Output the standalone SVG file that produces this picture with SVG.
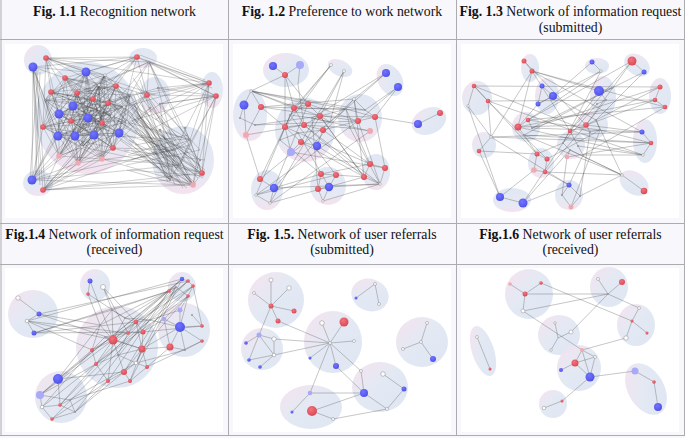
<svg xmlns="http://www.w3.org/2000/svg" width="685" height="438" viewBox="0 0 685 438">
<defs>
<linearGradient id="cg" x1="0" y1="0" x2="1" y2="1"><stop offset="0" stop-color="#f6e1ee"/><stop offset="0.45" stop-color="#e2e8f3"/><stop offset="1" stop-color="#dde5f1"/></linearGradient>
<linearGradient id="cgb" x1="0" y1="0" x2="0" y2="1"><stop offset="0" stop-color="#dfe6f2"/><stop offset="0.7" stop-color="#e4e8f3"/><stop offset="1" stop-color="#f4e0ee"/></linearGradient>
<radialGradient id="rg" cx="0.4" cy="0.35" r="0.7"><stop offset="0" stop-color="#f07480"/><stop offset="1" stop-color="#d9464f"/></radialGradient>
<radialGradient id="bg" cx="0.4" cy="0.35" r="0.7"><stop offset="0" stop-color="#7275ff"/><stop offset="1" stop-color="#4c4fe6"/></radialGradient>
</defs>
<style>
text{font-family:'Liberation Serif',serif;font-size:13.8px;fill:#111;text-anchor:middle}
.bd{font-weight:bold}
.grid{stroke:#ababb0;stroke-width:1;fill:none}
.img{fill:#fff}
.c ellipse{fill:url(#cg);opacity:0.95}
.c ellipse.cb{fill:url(#cgb)}
.e{fill:none;stroke:#4a4a4a;stroke-width:0.45;stroke-opacity:0.7}
.ed{fill:none;stroke:#3c3c3c;stroke-width:0.35;stroke-opacity:0.7}
.r{fill:url(#rg)}
.b{fill:url(#bg)}
.rf{fill:#f1a9b1}
.bf{fill:#a8a9f7}
.w{fill:#fff;stroke:#8a8a8a;stroke-width:0.5}
.s{fill:#9a9aa2}
</style>
<rect x="0" y="0" width="685" height="438" fill="#f7f7fc"/>
<g id="table">
<rect class="img" x="5" y="44" width="218" height="174"/>
<rect class="img" x="233" y="44" width="218" height="174"/>
<rect class="img" x="461" y="44" width="218" height="174"/>
<rect class="img" x="5" y="268" width="218" height="164"/>
<rect class="img" x="233" y="268" width="218" height="164"/>
<rect class="img" x="461" y="268" width="218" height="164"/>
<path class="grid" d="M1 0V436M228.5 0V436M456.5 0V436M684.5 0V436M0 39.5H685M0 223.5H685M0 264.5H685M0 435.5H685"/>
</g>
<g id="titles" font-family="Liberation Serif, Times New Roman, serif">
<text x="114.5" y="16"><tspan class="bd">Fig. 1.1</tspan> Recognition network</text>
<text x="342" y="16"><tspan class="bd">Fig. 1.2</tspan> Preference to work network</text>
<text x="570.5" y="16"><tspan class="bd">Fig. 1.3</tspan> Network of information request</text>
<text x="570.5" y="31.5">(submitted)</text>
<text x="114.5" y="238.5"><tspan class="bd">Fig.1.4</tspan> Network of information request</text>
<text x="114.5" y="254">(received)</text>
<text x="342" y="238.5"><tspan class="bd">Fig. 1.5.</tspan> Network of user referrals</text>
<text x="342" y="254">(submitted)</text>
<text x="570.5" y="238.5"><tspan class="bd">Fig.1.6</tspan> Network of user referrals</text>
<text x="570.5" y="254">(received)</text>
</g>

<g id="fig-1-1">
<g class="c">
<ellipse cx="38" cy="60" rx="14" ry="15"/>
<ellipse class="cb" cx="87" cy="118" rx="52" ry="56"/>
<ellipse class="cb" cx="143" cy="58" rx="14" ry="10"/>
<ellipse class="cb" cx="155" cy="95" rx="15" ry="18"/>
<ellipse class="cb" cx="212" cy="90" rx="11" ry="18"/>
<ellipse class="cb" cx="183" cy="160" rx="31" ry="34"/>
<ellipse class="cb" cx="38" cy="183" rx="15" ry="13"/>
</g>
<g id="fig-1-1-connectors">
<path class="ed" d="M86 72L116 86M86 72L93 99M86 72L59 114M65 78L99 85M65 78L108 103M65 78L88 118M105 75L51 92M105 75L73 106M105 75L112 116M116 86L77 93M116 86L124 107M116 86L71 121M99 85L93 99M99 85L99 109M99 85L102 123M51 92L108 103M51 92L59 114M51 92L127 122M77 93L73 106M77 93L88 118M77 93L43 127M93 99L124 107M93 99L112 116M93 99L58 136M108 103L99 109M108 103L71 121M108 103L75 136M73 106L59 114M73 106L102 123M73 106L94 135M124 107L88 118M124 107L127 122M124 107L119 133M99 109L112 116M99 109L43 127M99 109L82 147M59 114L71 121M59 114L58 136M59 114L113 148M88 118L102 123M88 118L75 136M88 118L59 156M112 116L127 122M112 116L94 135M112 116L78 163M71 121L43 127M71 121L119 133M71 121L102 159M102 123L58 136M102 123L82 147M102 123L45 100M127 122L75 136M127 122L113 148M127 122L130 95M43 127L94 135M43 127L59 156M43 127L86 72M58 136L119 133M58 136L78 163M58 136L65 78M75 136L82 147M75 136L102 159M75 136L105 75M94 135L113 148M94 135L45 100M94 135L116 86M119 133L59 156M119 133L130 95M119 133L99 85M82 147L78 163M82 147L86 72M82 147L51 92M113 148L102 159M113 148L65 78M113 148L77 93M59 156L45 100M59 156L105 75M59 156L93 99M78 163L130 95M78 163L116 86M78 163L108 103M102 159L86 72M102 159L99 85M102 159L73 106M45 100L65 78M45 100L51 92M45 100L124 107M130 95L105 75M130 95L77 93M130 95L99 109"/>
<path class="ed" d="M86 72L51 92M86 72L73 106M65 78L77 93M65 78L124 107M105 75L93 99M105 75L99 109M116 86L108 103M116 86L59 114M99 85L73 106M99 85L88 118M51 92L124 107M51 92L112 116M77 93L99 109M77 93L71 121M93 99L59 114M93 99L102 123M108 103L88 118M108 103L127 122M73 106L112 116M73 106L43 127M124 107L71 121M124 107L58 136M99 109L102 123M99 109L75 136M59 114L127 122M59 114L94 135M88 118L43 127M88 118L119 133M112 116L58 136M112 116L82 147M71 121L75 136M71 121L113 148M102 123L94 135M102 123L59 156M127 122L119 133M127 122L78 163M43 127L82 147M43 127L102 159M58 136L113 148M58 136L45 100M75 136L59 156M75 136L130 95M94 135L78 163M94 135L86 72M119 133L102 159M119 133L65 78M82 147L45 100M82 147L105 75M113 148L130 95M113 148L116 86M59 156L86 72M59 156L99 85M78 163L65 78M78 163L51 92M102 159L105 75M102 159L77 93M45 100L116 86M45 100L93 99M130 95L99 85M130 95L108 103"/>
<path class="ed" d="M86 72L105 75M86 72L88 118M65 78L116 86M65 78L112 116M105 75L99 85M105 75L71 121M116 86L51 92M116 86L102 123M99 85L77 93M99 85L127 122M51 92L93 99M51 92L43 127M77 93L108 103M77 93L58 136M93 99L73 106M93 99L75 136M108 103L124 107M108 103L94 135M73 106L99 109M73 106L119 133M124 107L59 114M124 107L82 147M99 109L88 118M99 109L113 148M59 114L112 116M59 114L59 156M88 118L71 121M88 118L78 163M112 116L102 123M112 116L102 159M71 121L127 122M71 121L45 100M102 123L43 127M102 123L130 95M127 122L58 136M127 122L86 72M43 127L75 136M43 127L65 78M58 136L94 135M58 136L105 75M75 136L119 133M75 136L116 86M94 135L82 147M94 135L99 85M119 133L113 148M119 133L51 92M82 147L59 156M82 147L77 93M113 148L78 163M113 148L93 99M59 156L102 159M59 156L108 103M78 163L45 100M78 163L73 106M102 159L130 95M102 159L124 107M45 100L86 72M45 100L99 109M130 95L65 78M130 95L59 114"/>
<path class="ed" d="M46 58L137 57M46 58L149 62M46 58L86 72M46 58L65 78M46 58L51 92M46 58L73 106M46 58L99 85M46 58L105 75M46 58L43 127M46 58L59 114M46 58L209 83M46 58L155 95M33 67L32 180M33 67L43 190M33 67L43 127M33 67L45 100M33 67L58 136M33 67L59 156M33 67L65 78M33 67L86 72M33 67L137 57M33 67L37 175M33 67L40 185M38 70L30 178M40 72L35 182M36 68L45 188M137 57L209 83M137 57L216 96M137 57L86 72M137 57L105 75M137 57L116 86M137 57L147 95M137 57L124 107M137 57L93 99M137 57L65 78M137 57L32 180M149 62L209 83M149 62L216 96M149 62L147 95M149 62L160 90M149 62L130 95M149 62L99 85M149 62L77 93M149 62L190 140M149 62L202 173M149 62L43 190M140 55L205 80M145 60L212 88M147 95L209 83M147 95L216 96M147 95L124 107M147 95L127 122M147 95L116 86M147 95L193 185M147 95L202 173M147 95L32 180M147 95L43 190M158 88L209 83M158 88L216 96M158 88L108 103M158 88L175 150M160 104L216 96M160 104L209 83M160 104L119 133M160 104L190 140M160 104L170 180M150 108L113 148M150 108L200 160M150 108L43 190M209 83L202 173M209 83L193 185M209 83L175 150M209 83L190 140M216 96L202 173M216 96L193 185M216 96L170 180M216 96L180 165M209 83L124 107M216 96L127 122M209 83L130 95M216 96L160 104M209 83L155 120M216 96L150 130"/>
<path class="ed" d="M124 107L175 150M124 107L193 185M127 122L190 140M127 122L202 173M119 133L193 185M119 133L170 180M113 148L175 150M113 148L202 173M102 159L193 185M102 159L180 165M108 103L200 160M116 86L175 150M130 95L193 185M130 95L170 180M99 109L202 173M112 116L180 165M94 135L190 140M88 118L193 185M78 163L175 150M82 147L202 173M105 75L180 165M99 85L190 140M93 99L170 180M116 86L193 185M124 107L170 180M127 122L180 165M119 133L175 150M136 110L180 180M138 100L190 175M140 120L200 165M135 130L195 185M133 140L170 180M140 95L185 160M142 105L175 185M137 115L205 170M131 150L185 185M145 90L200 150M134 104L165 175M139 125L188 182M136 92L178 172M132 118L198 178M141 135L192 150M128 100L190 182M130 112L172 178M126 128L198 168M134 96L168 182M129 140L203 178M131 160L190 145M127 170L180 185M136 85L195 170M124 150L205 160M140 80L170 170M135 145L188 135M126 165L200 150M132 108L183 188M138 128L196 184M122 95L178 178M120 140L187 188M133 78L200 175M128 155L176 140M125 118L168 168M130 170L204 176M32 180L193 185M43 190L202 173M43 190L193 185M32 180L175 150M43 190L170 180M32 180L180 165M43 190L190 140M32 180L43 127M32 180L58 136M32 180L59 156M32 180L78 163M32 180L86 72M32 180L73 106M43 190L59 156M43 190L78 163M43 190L102 159M43 190L82 147M43 190L113 148M43 190L94 135M175 150L190 140M190 140L202 173M202 173L193 185M193 185L170 180M170 180L175 150M180 165L202 173M180 165L190 140M175 150L193 185M160 130L175 150M160 130L190 140M160 130L180 165M165 175L193 185M185 128L202 173"/>
</g>
<g id="fig-1-1-nodes">
<circle class="b" cx="33" cy="67" r="4.5"/><circle class="r" cx="46" cy="58" r="2.8"/>
<circle class="r" cx="137" cy="57" r="2.8"/><circle class="s" cx="149" cy="62" r="1.3"/>
<circle class="r" cx="147" cy="95" r="2.8"/><circle class="s" cx="158" cy="88" r="1.2"/><circle class="s" cx="160" cy="104" r="1.2"/><circle class="s" cx="150" cy="108" r="1.2"/>
<circle class="r" cx="209" cy="83" r="2.8"/><circle class="r" cx="216" cy="96" r="2.8"/>
<circle class="r" cx="202" cy="173" r="2.8"/><circle class="rf" cx="193" cy="185" r="2.8"/>
<circle class="s" cx="175" cy="150" r="1.2"/><circle class="s" cx="190" cy="140" r="1.2"/><circle class="s" cx="200" cy="160" r="1.2"/><circle class="s" cx="180" cy="165" r="1.2"/><circle class="s" cx="170" cy="180" r="1.2"/><circle class="s" cx="160" cy="130" r="1.2"/><circle class="s" cx="185" cy="128" r="1.2"/><circle class="s" cx="165" cy="175" r="1.2"/>
<circle class="b" cx="32" cy="180" r="4.5"/><circle class="r" cx="43" cy="190" r="2.8"/>
<circle class="b" cx="86" cy="72" r="4.5"/><circle class="r" cx="65" cy="78" r="2.8"/><circle class="w" cx="105" cy="75" r="1.3"/><circle class="r" cx="116" cy="86" r="2.8"/><circle class="w" cx="99" cy="85" r="1.3"/><circle class="r" cx="51" cy="92" r="2.8"/><circle class="r" cx="77" cy="93" r="2.8"/><circle class="r" cx="93" cy="99" r="2.8"/><circle class="r" cx="108" cy="103" r="2.8"/><circle class="b" cx="73" cy="106" r="4.5"/><circle class="w" cx="124" cy="107" r="1.3"/><circle class="w" cx="99" cy="109" r="1.3"/><circle class="b" cx="59" cy="114" r="4.5"/><circle class="b" cx="88" cy="118" r="4.5"/><circle class="w" cx="112" cy="116" r="1.3"/><circle class="r" cx="71" cy="121" r="2.8"/><circle class="r" cx="102" cy="123" r="2.8"/><circle class="w" cx="127" cy="122" r="1.3"/><circle class="r" cx="43" cy="127" r="2.8"/><circle class="b" cx="58" cy="136" r="4.5"/><circle class="b" cx="75" cy="136" r="4.5"/><circle class="b" cx="94" cy="135" r="4.5"/><circle class="b" cx="119" cy="133" r="4.5"/><circle class="w" cx="82" cy="147" r="1.3"/><circle class="r" cx="113" cy="148" r="2.8"/><circle class="rf" cx="59" cy="156" r="2.8"/><circle class="rf" cx="78" cy="163" r="2.8"/><circle class="rf" cx="102" cy="159" r="2.8"/><circle class="s" cx="45" cy="100" r="1.2"/><circle class="s" cx="130" cy="95" r="1.2"/>
</g>
</g>

<g id="fig-1-2">
<g class="c">
<ellipse cx="286" cy="70" rx="23" ry="17"/>
<ellipse cx="340" cy="68" rx="13" ry="8" transform="rotate(25 340 68)"/>
<ellipse cx="390" cy="80" rx="12" ry="17" transform="rotate(-30 390 80)"/>
<ellipse class="cb" cx="250" cy="115" rx="17" ry="26"/>
<ellipse class="cb" cx="305" cy="130" rx="30" ry="32"/>
<ellipse class="cb" cx="360" cy="118" rx="22" ry="24"/>
<ellipse cx="429" cy="121" rx="18" ry="13" transform="rotate(-25 429 121)"/>
<ellipse class="cb" cx="376" cy="172" rx="14" ry="18"/>
<ellipse class="cb" cx="328" cy="186" rx="18" ry="19"/>
<ellipse class="cb" cx="267" cy="190" rx="16" ry="20"/>
</g>
<g id="fig-1-2-connectors">
<path class="e" d="M285 75L273 66M285 75L300 65M285 75L294 108M285 75L308 104M285 75L285 127M300 65L298 85L304 125M285 75L251 91M331 65L294 108M331 65L285 127M331 65L290 115M344 71L320 116M344 71L330 122M344 71L301 142M386 73L354 99M386 73L346 109M398 87L365 110M398 87L358 121M398 87L375 117M386 73L312 118M251 91L244 105M251 91L261 107M261 107L246 135M244 105L246 135M251 91L294 108M251 91L308 104M251 91L320 116M251 91L346 109M261 107L285 127M261 107L354 99M261 107L358 121M255 125L320 116M246 135L304 125M244 105L240 118M240 118L255 125M246 135L260 179M261 107L346 109M255 125L358 121M251 91L365 110M294 108L308 104M308 104L320 116M294 108L285 127M285 127L304 125M304 125L323 130M320 116L304 125M294 108L304 125M285 127L301 142M301 142L317 146M317 146L323 130M291 152L301 142M291 152L285 127M290 115L312 118M290 115L280 140M312 118L330 122M298 133L323 130M280 140L298 133M308 104L290 115M320 116L330 122M320 116L346 109M323 130L358 121M330 122L354 99M320 116L375 117M304 125L350 128M308 104L358 121M312 118L370 131M294 108L365 110M354 99L358 121M346 109L375 117M358 121L375 117M350 128L370 131M365 110L375 117M354 99L365 110M346 109L350 128M375 117L418 124M418 124L440 113"/>
<path class="e" d="M285 127L370 164M301 142L364 177M317 146L380 184M291 152L385 168M320 116L364 177M304 125L380 184M323 130L370 164M280 140L321 174M290 115L336 175M312 118L318 189M298 133L329 187M260 179L294 108M274 188L308 104M256 195L285 127M270 203L320 116M274 188L354 99M260 179L346 109M256 195L358 121M270 203L370 131M274 188L380 184M270 203L364 177M274 188L321 174M256 195L336 175M260 179L274 188M274 188L256 195M256 195L270 203M270 203L274 188M321 174L336 175M336 175L329 187M329 187L318 189M318 189L321 174M323 201L329 187M323 201L318 189M336 175L364 177M329 187L380 184M323 201L380 184M321 174L370 164M370 164L385 168M370 164L364 177M364 177L380 184M385 168L380 184M364 177L354 99M370 164L346 109M385 168L375 117M380 184L358 121M364 177L320 116M380 184L350 128M364 177L304 125"/>
</g>
<g id="fig-1-2-nodes">
<circle class="b" cx="273" cy="66" r="4"/><circle class="bf" cx="300" cy="65" r="4"/><circle class="r" cx="285" cy="75" r="3"/>
<circle class="w" cx="331" cy="65" r="1.5"/><circle class="w" cx="344" cy="71" r="1.5"/>
<circle class="b" cx="386" cy="73" r="4"/><circle class="b" cx="398" cy="87" r="4"/>
<circle class="b" cx="244" cy="105" r="4.5"/><circle class="r" cx="261" cy="107" r="3"/><circle class="rf" cx="246" cy="135" r="3"/><circle class="w" cx="251" cy="91" r="1.3"/><circle class="s" cx="240" cy="118" r="1.1"/><circle class="s" cx="255" cy="125" r="1.1"/>
<circle class="r" cx="294" cy="108" r="3"/><circle class="r" cx="308" cy="104" r="3"/><circle class="r" cx="320" cy="116" r="3"/><circle class="r" cx="285" cy="127" r="3"/><circle class="r" cx="304" cy="125" r="3"/><circle class="r" cx="323" cy="130" r="3"/><circle class="r" cx="301" cy="142" r="3"/><circle class="b" cx="317" cy="146" r="4.2"/><circle class="bf" cx="291" cy="152" r="4"/>
<circle class="s" cx="290" cy="115" r="1.1"/><circle class="s" cx="312" cy="118" r="1.1"/><circle class="s" cx="280" cy="140" r="1.1"/><circle class="s" cx="330" cy="122" r="1.1"/><circle class="s" cx="298" cy="133" r="1.1"/>
<circle class="r" cx="358" cy="121" r="3"/><circle class="r" cx="375" cy="117" r="3"/><circle class="rf" cx="370" cy="131" r="3"/><circle class="w" cx="354" cy="99" r="1.5"/><circle class="s" cx="346" cy="109" r="1.1"/><circle class="s" cx="350" cy="128" r="1.1"/><circle class="s" cx="365" cy="110" r="1.1"/>
<circle class="b" cx="418" cy="124" r="4"/><circle class="r" cx="440" cy="113" r="3"/>
<circle class="r" cx="370" cy="164" r="3"/><circle class="r" cx="385" cy="168" r="3"/><circle class="r" cx="364" cy="177" r="3"/><circle class="w" cx="380" cy="184" r="1.3"/>
<circle class="r" cx="321" cy="174" r="3"/><circle class="r" cx="336" cy="175" r="3"/><circle class="b" cx="329" cy="187" r="4.2"/><circle class="r" cx="318" cy="189" r="3"/><circle class="w" cx="323" cy="201" r="1.3"/>
<circle class="r" cx="260" cy="179" r="3"/><circle class="b" cx="274" cy="188" r="4.2"/><circle class="w" cx="256" cy="195" r="1.3"/><circle class="w" cx="270" cy="203" r="1.3"/>
</g>
</g>

<g id="fig-1-3">
<g class="c">
<ellipse cx="530" cy="68" rx="9" ry="14"/>
<ellipse cx="597" cy="66" rx="12" ry="8"/>
<ellipse cx="637" cy="65" rx="14" ry="10" transform="rotate(35 637 65)"/>
<ellipse cx="477" cy="98" rx="15" ry="17"/>
<ellipse cx="547" cy="96" rx="12" ry="18"/>
<ellipse cx="603" cy="97" rx="13" ry="21"/>
<ellipse cx="660" cy="96" rx="11" ry="18"/>
<ellipse cx="484" cy="145" rx="12" ry="13"/>
<ellipse cx="526" cy="127" rx="14" ry="15"/>
<ellipse cx="593" cy="125" rx="15" ry="14"/>
<ellipse class="cb" cx="571" cy="145" rx="14" ry="14"/>
<ellipse cx="645" cy="141" rx="12" ry="22"/>
<ellipse class="cb" cx="541" cy="163" rx="13" ry="15"/>
<ellipse cx="634" cy="183" rx="16" ry="11" transform="rotate(35 634 183)"/>
<ellipse class="cb" cx="512" cy="200" rx="19" ry="12"/>
<ellipse class="cb" cx="569" cy="195" rx="14" ry="15"/>
</g>
<g id="fig-1-3-connectors">
<path class="e" d="M474 86L660 87M488 101L655 100M474 86L488 101M474 86L468 106M468 106L491 137M488 101L491 137M532 71L524 61M532 71L518 127M532 71L491 137M532 71L570 131M532 71L599 91M532 71L642 132M524 61L586 125M592 62L601 71M601 71L538 104M601 71L528 120M601 71L563 143M592 62L553 96M632 61L644 72M632 61L586 125M632 61L570 131M644 72L532 128M632 61L528 120M644 72L596 120M542 86L553 96M553 96L538 104M542 86L538 104M553 96L596 120M538 104L518 127M599 91L606 100M599 91L612 88M606 100L597 104M599 91L570 131M606 100L586 125M612 88L524 135M597 104L563 143M660 87L655 100M655 100L665 107M660 87L532 128M655 100L518 127M665 107L528 120M660 87L596 120M655 100L570 131M665 107L583 155M491 137L479 151M491 137L642 132M491 137L651 143M479 151L537 154M491 137L569 185"/>
<path class="e" d="M518 127L528 120M518 127L524 135M528 120L532 128M524 135L537 154M518 127L586 125M528 120L600 130M532 128L642 132M524 135L651 143M518 127L643 155M586 125L596 120M596 120L600 130M600 130L590 132M586 125L590 132M586 125L642 132M600 130L651 143M570 131L563 143M570 131L578 146M563 143L570 150M578 146L583 155M570 150L567 157M563 143L537 154M578 146L643 155M567 157L651 143M570 150L622 175M583 155L643 155M642 132L651 143M651 143L643 155M537 154L547 159M547 159L545 172M534 170L545 172M537 154L534 170M545 172L586 125M547 159L600 130M534 170L500 197M545 172L569 185M537 154L474 86M547 159L488 101M644 191L622 175M622 175L545 172M622 175L570 150M622 175L596 120M622 175L524 135M500 197L523 203M523 203L570 150M523 203L563 143M500 197L479 151M523 203L569 185M500 197L468 106M569 185L562 195M562 195L571 207M580 196L571 207M569 185L580 196M569 185L583 155M580 196L590 132M562 195L567 157M571 207L600 130M580 196L622 175M474 86L590 132M488 101L643 155M532 71L665 107"/>
</g>
<g id="fig-1-3-nodes">
<circle class="r" cx="524" cy="61" r="2.5"/><circle class="r" cx="532" cy="71" r="2.5"/>
<circle class="b" cx="592" cy="62" r="2.5"/><circle class="w" cx="601" cy="71" r="1.3"/>
<circle class="r" cx="632" cy="61" r="4.5"/><circle class="b" cx="644" cy="72" r="2.5"/>
<circle class="r" cx="474" cy="86" r="2.3"/><circle class="r" cx="488" cy="101" r="2.3"/><circle class="w" cx="468" cy="106" r="1.3"/>
<circle class="b" cx="542" cy="86" r="2.5"/><circle class="b" cx="553" cy="96" r="4"/><circle class="b" cx="538" cy="104" r="2.5"/>
<circle class="b" cx="599" cy="91" r="5"/><circle class="s" cx="606" cy="100" r="1.1"/><circle class="s" cx="612" cy="88" r="1.1"/><circle class="s" cx="597" cy="104" r="1.1"/>
<circle class="r" cx="660" cy="87" r="2.5"/><circle class="r" cx="655" cy="100" r="2.3"/><circle class="r" cx="665" cy="107" r="2.3"/>
<circle class="w" cx="491" cy="137" r="1.3"/><circle class="r" cx="479" cy="151" r="2.3"/>
<circle class="r" cx="518" cy="127" r="3.5"/><circle class="r" cx="528" cy="120" r="2.3"/><circle class="s" cx="524" cy="135" r="1.1"/><circle class="s" cx="532" cy="128" r="1.1"/>
<circle class="r" cx="586" cy="125" r="2.8"/><circle class="s" cx="596" cy="120" r="1.1"/><circle class="s" cx="600" cy="130" r="1.1"/><circle class="s" cx="590" cy="132" r="1.1"/>
<circle class="r" cx="570" cy="131" r="2.3"/><circle class="rf" cx="567" cy="157" r="2.3"/><circle class="s" cx="563" cy="143" r="1.1"/><circle class="s" cx="578" cy="146" r="1.1"/><circle class="s" cx="570" cy="150" r="1.1"/><circle class="s" cx="583" cy="155" r="1.1"/>
<circle class="b" cx="642" cy="132" r="2.5"/><circle class="r" cx="651" cy="143" r="2.3"/><circle class="w" cx="643" cy="155" r="1.3"/>
<circle class="r" cx="537" cy="154" r="2.5"/><circle class="r" cx="547" cy="159" r="2.5"/><circle class="rf" cx="534" cy="170" r="2.8"/><circle class="r" cx="545" cy="172" r="2.3"/>
<circle class="r" cx="644" cy="191" r="3.3"/><circle class="w" cx="622" cy="175" r="1.3"/>
<circle class="b" cx="500" cy="197" r="4"/><circle class="b" cx="523" cy="203" r="4.5"/>
<circle class="b" cx="569" cy="185" r="2.5"/><circle class="rf" cx="571" cy="207" r="2.5"/><circle class="s" cx="562" cy="195" r="1.1"/><circle class="s" cx="580" cy="196" r="1.1"/>
</g>
</g>

<g id="fig-1-4">
<g class="c">
<ellipse cx="33" cy="314" rx="25" ry="24"/>
<ellipse cx="95" cy="285" rx="15" ry="16"/>
<ellipse cx="182" cy="287" rx="14" ry="15"/>
<ellipse cx="117" cy="347" rx="41" ry="41"/>
<ellipse cx="184" cy="330" rx="26" ry="27"/>
<ellipse cx="61" cy="397" rx="26" ry="26"/>
</g>
<g id="fig-1-4-connectors">
<path class="e" d="M18 298L39 314M27 321L39 314M27 321L34 333M27 321L128 333M27 321L113 340M34 333L136 322M39 314L100 325M34 333L169 291M27 321L182 279M39 314L188 281M34 333L112 310M90 281L88 294M103 287L112 310M88 294L100 325M90 281L113 340M103 287L136 322M88 294L125 318M103 287L128 333M169 291L112 310M169 291L125 318M176 287L100 325M182 279L113 340M188 281L128 333M193 286L92 350M188 296L96 364M169 291L108 381M176 287L124 372M182 279L130 381M188 281L136 322M193 286L143 332M169 291L58 379M176 287L60 405M182 279L40 395M188 281L52 419M193 286L42 407M169 291L75 412M176 287L136 363M188 296L142 349M182 279L188 281M188 281L193 286M169 291L176 287M176 287L188 296M182 279L169 291M193 286L188 296M188 296L180 310M188 296L180 327M193 286L202 326M188 296L164 319M39 314L142 349M34 333L143 332M27 321L92 350"/>
<path class="e" d="M113 340L142 349M113 340L136 322M113 340L128 333M113 340L92 350M113 340L96 364M113 340L124 372M113 340L108 381M113 340L112 310M113 340L125 318M113 340L100 325M113 340L105 337M142 349L136 322M142 349L143 332M142 349L147 367M142 349L136 363M142 349L130 381M142 349L118 355M136 322L143 332M136 322L128 333M136 322L125 318M136 322L150 320M143 332L128 333M128 333L118 355M92 350L96 364M96 364L108 381M108 381L124 372M124 372L130 381M130 381L147 367M147 367L136 363M136 363L124 372M92 350L100 325M96 364L118 355M118 355L136 363M105 337L92 350M112 310L125 318M125 318L150 320M100 325L112 310M105 337L128 333M124 372L142 349M96 364L136 322M142 349L170 347M143 332L164 319M150 320L180 327M142 349L180 327M147 367L170 347M136 363L185 350M150 320L180 310M143 332L202 326M147 367L202 341M180 327L164 319M180 327L170 347M180 327L202 326M180 327L202 341M180 327L185 350M180 310L180 327M164 319L170 347M192 315L202 326M185 350L202 341M170 347L185 350M92 350L58 379M96 364L60 405M108 381L52 419M124 372L75 412M113 340L40 395M100 325L58 379M130 381L70 400M92 350L42 407M108 381L75 412M96 364L40 395M136 363L60 405M124 372L58 379M58 379L40 395M40 395L42 407M42 407L52 419M52 419L75 412M75 412L60 405M60 405L58 379M70 400L75 412M42 407L60 405M40 395L70 400"/>
</g>
<g id="fig-1-4-nodes">
<circle class="w" cx="18" cy="298" r="2.2"/><circle class="b" cx="39" cy="314" r="2.5"/><circle class="w" cx="27" cy="321" r="1.8"/><circle class="b" cx="34" cy="333" r="2.5"/>
<circle class="b" cx="90" cy="281" r="2.5"/><circle class="w" cx="103" cy="287" r="2.5"/><circle class="r" cx="88" cy="294" r="1.8"/>
<circle class="b" cx="182" cy="279" r="2.2"/><circle class="r" cx="188" cy="281" r="1.8"/><circle class="r" cx="193" cy="286" r="1.8"/><circle class="r" cx="169" cy="291" r="1.8"/><circle class="r" cx="188" cy="296" r="1.8"/><circle class="s" cx="176" cy="287" r="1"/>
<circle class="r" cx="113" cy="340" r="4.5"/><circle class="r" cx="142" cy="349" r="3.5"/><circle class="r" cx="136" cy="322" r="2.3"/><circle class="r" cx="143" cy="332" r="2.5"/><circle class="r" cx="128" cy="333" r="1.8"/><circle class="r" cx="92" cy="350" r="2"/><circle class="r" cx="96" cy="364" r="2"/><circle class="r" cx="124" cy="372" r="3"/><circle class="r" cx="147" cy="367" r="2"/><circle class="r" cx="130" cy="381" r="2"/><circle class="r" cx="108" cy="381" r="2"/><circle class="w" cx="136" cy="363" r="1.8"/>
<circle class="s" cx="112" cy="310" r="1"/><circle class="s" cx="125" cy="318" r="1"/><circle class="s" cx="100" cy="325" r="1"/><circle class="s" cx="118" cy="355" r="1"/><circle class="s" cx="105" cy="337" r="1"/><circle class="s" cx="150" cy="320" r="1"/>
<circle class="b" cx="180" cy="327" r="5"/><circle class="bf" cx="180" cy="310" r="2.5"/><circle class="bf" cx="164" cy="319" r="2.3"/><circle class="r" cx="170" cy="347" r="3.5"/><circle class="r" cx="202" cy="326" r="1.8"/><circle class="r" cx="202" cy="341" r="1.8"/><circle class="s" cx="185" cy="350" r="1"/><circle class="s" cx="192" cy="315" r="1"/>
<circle class="b" cx="58" cy="379" r="5"/><circle class="bf" cx="40" cy="395" r="4"/><circle class="r" cx="60" cy="405" r="1.8"/><circle class="r" cx="52" cy="419" r="1.8"/><circle class="w" cx="42" cy="407" r="1.8"/><circle class="s" cx="75" cy="412" r="1"/><circle class="s" cx="70" cy="400" r="1"/>
</g>
</g>

<g id="fig-1-5">
<g class="c">
<ellipse cx="276" cy="300" rx="28" ry="28"/>
<ellipse cx="370" cy="295" rx="19" ry="16" transform="rotate(20 370 295)"/>
<ellipse cx="262" cy="349" rx="21" ry="21"/>
<ellipse cx="333" cy="342" rx="29" ry="31"/>
<ellipse cx="422" cy="342" rx="26" ry="25"/>
<ellipse cx="380" cy="387" rx="28" ry="25"/>
<ellipse cx="311" cy="407" rx="31" ry="22"/>
</g>
<g id="fig-1-5-connectors">
<path class="e" d="M271 306L271 280M271 306L289 288M271 306L254 293M271 306L294 311M271 306L278 321M271 306L259 335M278 321L330 343M375 284L356 298M375 284L379 304M259 335L246 343M259 335L274 339M259 335L249 360M274 339L274 355M274 355L249 360M274 355L260 367M259 335L274 355M330 343L274 339M330 343L274 355M330 343L344 322M330 343L322 323M330 343L354 341M330 343L310 358M330 343L336 366M330 343L310 393M330 343L361 371M336 366L364 393M361 371L364 393M383 374L404 389M404 389L387 409M364 393L387 409M310 393L292 412M310 393L364 393M312 411L364 393M312 411L333 419M333 419L387 409M427 323L421 342M421 342L403 349M421 342L433 359"/>
</g>
<g id="fig-1-5-nodes">
<circle class="w" cx="271" cy="280" r="2"/><circle class="w" cx="289" cy="288" r="2.2"/><circle class="w" cx="254" cy="293" r="1.5"/><circle class="r" cx="271" cy="306" r="2.5"/><circle class="r" cx="294" cy="311" r="2.5"/><circle class="r" cx="278" cy="321" r="2.5"/>
<circle class="b" cx="356" cy="298" r="1.5"/><circle class="w" cx="375" cy="284" r="1.5"/><circle class="w" cx="379" cy="304" r="1.5"/>
<circle class="bf" cx="259" cy="335" r="2.5"/><circle class="b" cx="246" cy="343" r="1.8"/><circle class="w" cx="274" cy="339" r="2.2"/><circle class="w" cx="274" cy="355" r="1.8"/><circle class="b" cx="249" cy="360" r="1.8"/><circle class="b" cx="260" cy="367" r="1.8"/>
<circle class="w" cx="330" cy="343" r="1.5"/><circle class="r" cx="344" cy="322" r="4.5"/><circle class="w" cx="322" cy="323" r="2.3"/><circle class="w" cx="354" cy="341" r="1.5"/><circle class="b" cx="310" cy="358" r="1.5"/><circle class="b" cx="336" cy="366" r="3"/>
<circle class="w" cx="427" cy="323" r="1.5"/><circle class="w" cx="421" cy="342" r="1.5"/><circle class="w" cx="403" cy="349" r="1.5"/><circle class="b" cx="433" cy="359" r="3"/>
<circle class="b" cx="364" cy="393" r="4"/><circle class="w" cx="383" cy="374" r="2.3"/><circle class="b" cx="404" cy="389" r="2.5"/><circle class="w" cx="387" cy="409" r="1.5"/><circle class="w" cx="361" cy="371" r="1.5"/>
<circle class="bf" cx="310" cy="393" r="2.3"/><circle class="r" cx="312" cy="411" r="5"/><circle class="b" cx="292" cy="412" r="1.5"/><circle class="w" cx="333" cy="419" r="1.5"/>
</g>
</g>

<g id="fig-1-6">
<g class="c">
<ellipse cx="529" cy="294" rx="24" ry="25"/>
<ellipse cx="609" cy="287" rx="19" ry="20"/>
<ellipse cx="483" cy="351" rx="11" ry="26" transform="rotate(-18 483 351)"/>
<ellipse cx="559" cy="335" rx="21" ry="20"/>
<ellipse cx="636" cy="325" rx="19" ry="21"/>
<ellipse cx="579" cy="368" rx="22" ry="23"/>
<ellipse cx="646" cy="389" rx="18" ry="28" transform="rotate(-30 646 389)"/>
<ellipse cx="553" cy="404" rx="14" ry="14"/>
</g>
<g id="fig-1-6-connectors">
<path class="e" d="M525 294L510 284M525 294L541 283M525 294L523 311M525 294L608 294M523 311L608 294M541 283L632 321M608 294L598 279M608 294L622 282M608 294L639 308M608 294L571 332M523 311L582 350M477 337L490 369M558 338L555 323M558 338L571 332M558 338L551 350M632 321L639 308M632 321L647 333M632 321L626 338M626 338L582 350M582 350L575 363M582 350L595 357M575 363L561 370M575 363L590 377M595 357L590 377M582 350L590 377M575 363L595 357M590 377L635 371M635 371L654 382M654 382L658 407M590 377L562 401M562 401L544 408"/>
</g>
<g id="fig-1-6-nodes">
<circle class="rf" cx="510" cy="284" r="1.8"/><circle class="r" cx="525" cy="294" r="2.5"/><circle class="r" cx="541" cy="283" r="1.8"/><circle class="w" cx="523" cy="311" r="2"/>
<circle class="w" cx="598" cy="279" r="1.5"/><circle class="r" cx="622" cy="282" r="3"/><circle class="s" cx="608" cy="294" r="0.8"/>
<circle class="w" cx="477" cy="337" r="1.5"/><circle class="r" cx="490" cy="369" r="1.5"/>
<circle class="w" cx="555" cy="323" r="1.3"/><circle class="w" cx="571" cy="332" r="2"/><circle class="w" cx="551" cy="350" r="1.3"/>
<circle class="w" cx="639" cy="308" r="1.5"/><circle class="r" cx="632" cy="321" r="1.5"/><circle class="r" cx="647" cy="333" r="1.5"/><circle class="w" cx="626" cy="338" r="2.2"/>
<circle class="rf" cx="582" cy="350" r="2"/><circle class="r" cx="575" cy="363" r="3.5"/><circle class="b" cx="561" cy="370" r="2"/><circle class="b" cx="590" cy="377" r="4.5"/><circle class="w" cx="595" cy="357" r="1.5"/>
<circle class="bf" cx="635" cy="371" r="3.5"/><circle class="r" cx="654" cy="382" r="1.8"/><circle class="b" cx="658" cy="407" r="4"/>
<circle class="w" cx="544" cy="408" r="1.8"/><circle class="r" cx="562" cy="401" r="1.5"/>
</g>
</g>
</svg>
